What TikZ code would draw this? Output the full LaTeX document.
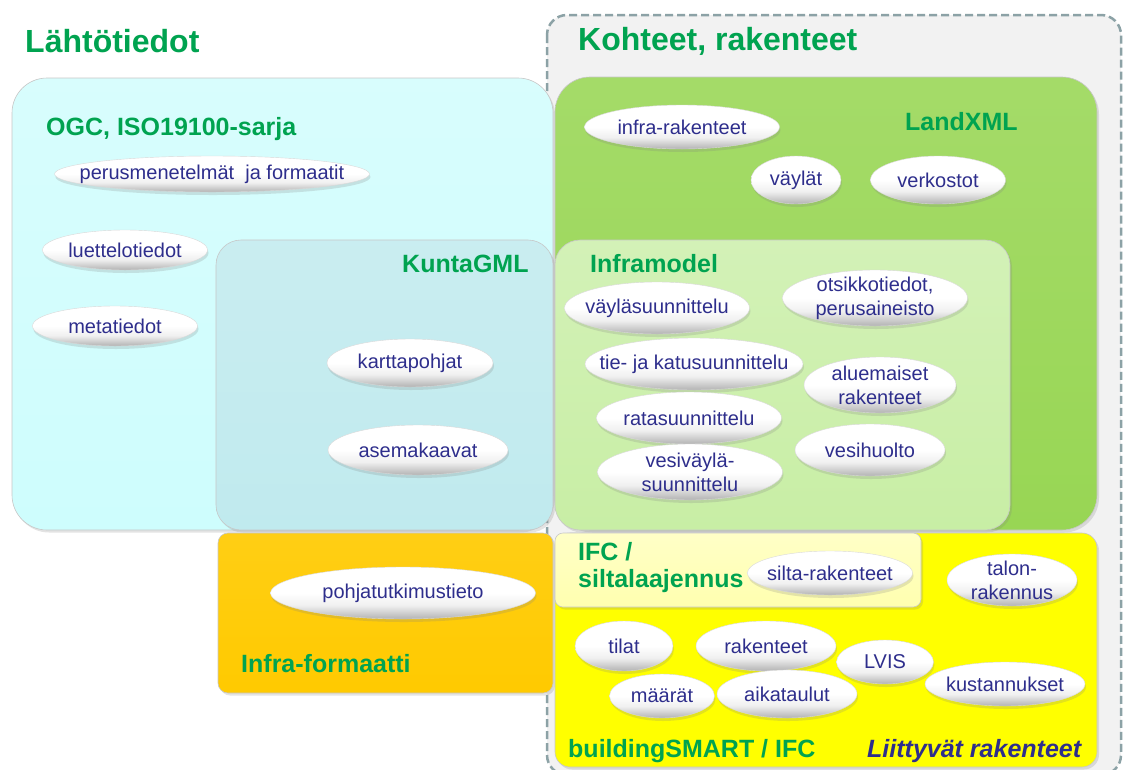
\documentclass[tikz,border=0pt]{standalone}
\usepackage{fontspec}
\setmainfont{Liberation Sans}
\usetikzlibrary{shapes.geometric,shadows}
\definecolor{tgreen}{RGB}{0,163,80}
\definecolor{navy}{RGB}{46,46,140}
\definecolor{dashc}{RGB}{140,162,166}
\definecolor{greyfill}{RGB}{242,242,242}
\definecolor{cyanc}{RGB}{206,253,253}
\definecolor{kuntac}{RGB}{192,234,238}
\definecolor{landc}{RGB}{152,214,84}
\definecolor{infrac}{RGB}{200,238,165}
\definecolor{orangec}{RGB}{255,202,0}
\definecolor{yellowc}{RGB}{255,255,0}
\definecolor{ifcc}{RGB}{255,255,175}
\pgfdeclareverticalshading{bubshade}{100bp}{color(0bp)=(black!30); color(25bp)=(black!30); color(38bp)=(black!6); color(50bp)=(white); color(100bp)=(white)}
\tikzset{
  box/.style={rounded corners=#1, draw=black!22, line width=0.6pt,
    drop shadow={shadow xshift=2pt,shadow yshift=-2.5pt,opacity=0.22}},
  bub/.style={ellipse, draw=black!15, line width=0.4pt, inner sep=0pt,
    shading=bubshade,
    drop shadow={shadow xshift=1pt,shadow yshift=-3pt,opacity=0.22}},
  bubtext/.style={text=navy, font=\fontsize{20}{24}\selectfont, align=center, inner sep=0pt},
  title/.style={text=tgreen, font=\fontsize{25}{29}\selectfont\bfseries, inner sep=0pt, anchor=base west},
  bigtitle/.style={text=tgreen, font=\fontsize{32}{36}\selectfont\bfseries, inner sep=0pt, anchor=base west}
}
\newcommand\bubble[6]{%
  \node[bub, minimum width=#4pt, minimum height=#5pt] (#1) at (#2,#3) {};
  \node[bubtext] at (#1.center) {#6};}
\begin{document}
\begin{tikzpicture}[x=1pt,y=-1pt]
\useasboundingbox (0,0) rectangle (1123,769);
\fill[white] (0,0) rectangle (1123,769);
% outer dashed region
\draw[dashc, line width=2.5pt, dash pattern=on 8pt off 4pt, fill=greyfill, rounded corners=20pt]
  (547,15) rectangle (1121,775);
% titles
\node[bigtitle] (lt) at (25,52) {Lähtötiedot};
\node[bigtitle] (kr) at (578,50) {Kohteet, rakenteet};
% boxes
\draw[box=35pt, top color=cyanc!80!white, bottom color=cyanc] (12,78) rectangle (553,530);
\draw[box=25pt, top color=kuntac!85!white, bottom color=kuntac] (216,240) rectangle (553,530);
\draw[box=35pt, top color=landc!88!white, bottom color=landc] (555,77) rectangle (1097,530);
\draw[box=25pt, top color=infrac!80!white, bottom color=infrac] (555,240) rectangle (1010,530);
\draw[box=10pt, top color=orangec!92!white, bottom color=orangec] (218,533) rectangle (553,693);
\draw[box=15pt, fill=yellowc] (555,533) rectangle (1097,767);
\draw[box=8pt, top color=ifcc!70!white, bottom color=ifcc] (555,533) rectangle (921,607);
% box titles
\node[title] (ogc) at (46,135) {OGC, ISO19100-sarja};
\node[title] (kgml) at (402,272) {KuntaGML};
\node[title] (lxml) at (905,130) {LandXML};
\node[title] (im) at (590,272) {Inframodel};
\node[title] (inf) at (241,672) {Infra-formaatti};
\node[title, align=left, anchor=north west, font=\fontsize{25}{27}\selectfont\bfseries] (ifc) at (578,542) {IFC /\\siltalaajennus};
\node[title] (bs) at (568,757) {buildingSMART / IFC};
\node[text=navy, font=\fontsize{25}{29}\selectfont\bfseries\itshape, inner sep=0pt, anchor=base west] (lr) at (867,757) {Liittyvät rakenteet};
% bubbles
\bubble{pm}{212}{174}{315}{36}{perusmenetelmät\ \ ja formaatit}
\bubble{lu}{125}{250}{165}{40}{luettelotiedot}
\bubble{me}{115}{326}{165}{40}{metatiedot}
\bubble{ka}{410}{363}{166}{48}{karttapohjat}
\bubble{as}{418}{450}{180}{50}{asemakaavat}
\bubble{ir}{682}{127}{195}{44}{infra-rakenteet}
\bubble{va}{796}{180}{90}{48}{väylät}
\bubble{ve}{938}{180}{135}{48}{verkostot}
\bubble{vs}{657}{308}{185}{52}{väyläsuunnittelu}
\bubble{ot}{875}{298}{185}{56}{otsikkotiedot,\\perusaineisto}
\bubble{tk}{694}{364}{218}{52}{tie- ja katusuunnittelu}
\bubble{al}{880}{385}{152}{56}{aluemaiset\\rakenteet}
\bubble{ra}{689}{418}{185}{52}{ratasuunnittelu}
\bubble{vh}{870}{450}{150}{52}{vesihuolto}
\bubble{vv}{690}{472}{185}{56}{vesiväylä-\\suunnittelu}
\bubble{po}{403}{593}{265}{52}{pohjatutkimustieto}
\bubble{si}{830}{573}{165}{44}{silta-rakenteet}
\bubble{ta}{1012}{580}{130}{52}{talon-\\rakennus}
\bubble{ti}{624}{646}{98}{50}{tilat}
\bubble{rk}{766}{646}{140}{50}{rakenteet}
\bubble{lv}{885}{662}{97}{44}{LVIS}
\bubble{ku}{1005}{684}{160}{44}{kustannukset}
\bubble{ma}{662}{696}{105}{44}{määrät}
\bubble{ai}{787}{694}{140}{48}{aikataulut}
\end{tikzpicture}
\end{document}
